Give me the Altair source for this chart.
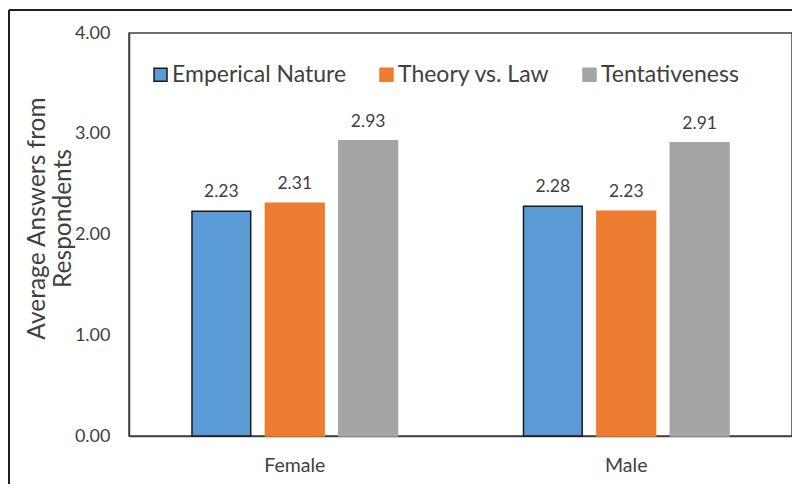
import altair as alt
import pandas as pd

groups = ["Female", "Male"]
series = ["Emperical Nature", "Theory vs. Law", "Tentativeness"]
values = {
    "Emperical Nature": [2.23, 2.28],
    "Theory vs. Law": [2.31, 2.23],
    "Tentativeness": [2.93, 2.91],
}
fills = ["#5B9BD5", "#ED7D31", "#A5A5A5"]
strokes = ["#1a1a1a", "#ED7D31", "#A5A5A5"]
y_ticks = [0, 1, 2, 3, 4]

rows = []
for s in series:
    for g, v in zip(groups, values[s]):
        rows.append({"group": g, "series": s, "value": v})
df = pd.DataFrame(rows)

FONT = "Lato"
TXT = "#404040"

x_enc = alt.X("group:N", sort=groups, title=None,
              scale=alt.Scale(paddingInner=0.38, paddingOuter=0.19),
              axis=alt.Axis(labelAngle=0, ticks=False, labelPadding=20,
                            labelFontSize=19.5, labelColor=TXT, labelFont=FONT,
                            domainColor="#404040", domainWidth=1.5))
xo_enc = alt.XOffset("series:N", sort=series,
                     scale=alt.Scale(paddingInner=0.2, paddingOuter=0))
y_enc = alt.Y("value:Q",
              scale=alt.Scale(domain=[0, 4], nice=False),
              axis=alt.Axis(values=y_ticks, format=".2f", ticks=False, grid=False,
                            labelPadding=19, labelFontSize=18, labelColor=TXT,
                            labelFont=FONT, domainColor="#404040", domainWidth=1.5,
                            title=["Average Answers from", "Respondents"],
                            titleFontSize=24.5, titleFontWeight="normal",
                            titleColor=TXT, titleFont=FONT, titlePadding=-1,
                            titleLineHeight=26, titleY=185))

leg = alt.Legend(title=None, orient="none", legendX=20, legendY=30,
                 direction="horizontal", symbolType="square",
                 symbolSize=169, symbolStrokeWidth=1.5,
                 labelFontSize=23, labelFont=FONT, labelColor=TXT,
                 labelLimit=400, labelOffset=0, columnPadding=28)

bars = alt.Chart(df).mark_bar(strokeWidth=1.5).encode(
    x=x_enc,
    xOffset=xo_enc,
    y=y_enc,
    color=alt.Color("series:N", sort=series,
                    scale=alt.Scale(domain=series, range=fills), legend=leg),
    stroke=alt.Stroke("series:N", sort=series,
                      scale=alt.Scale(domain=series, range=strokes), legend=leg),
)

labels = alt.Chart(df).mark_text(dy=-19, fontSize=17.5, font=FONT, color=TXT).encode(
    x=x_enc,
    xOffset=xo_enc,
    y=y_enc,
    text=alt.Text("value:Q", format=".2f"),
)

frame_left = alt.Chart(df).mark_rule(color="#222222", strokeWidth=1.5).encode(
    x=alt.value(-120), y=alt.value(-23), y2=alt.value(480))
frame_top = alt.Chart(df).mark_rule(color="#222222", strokeWidth=1.5).encode(
    x=alt.value(-120), x2=alt.value(680), y=alt.value(-23))

chart = alt.layer(bars, labels, frame_left, frame_top).properties(
    width=663, height=403,
    autosize=alt.AutoSizeParams(type="none"),
    padding={"left": 121, "top": 25, "right": 0, "bottom": 48},
).configure_view(stroke="#404040", strokeWidth=1.5)

chart.save("out.html", embed_options={"renderer": "svg", "actions": False})
